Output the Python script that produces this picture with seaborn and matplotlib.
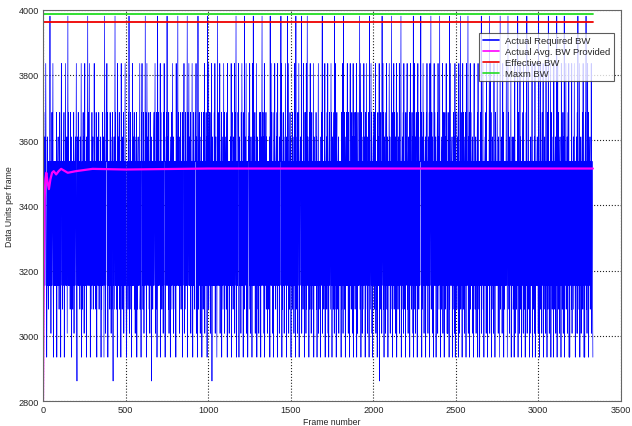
import numpy as np
import pandas as pd
import matplotlib
matplotlib.use("Agg")
import matplotlib.pyplot as plt
import seaborn as sns

# Quantised frame sizes seen in the plot (data units per frame)
levels = [2862, 2935, 3008, 3082, 3155, 3228, 3302, 3375, 3448, 3535, 3610, 3685, 3835, 3980]

# Required BW, one char per sample = index into levels (0-9, a-d)
required_codes = (
    "49b94a49c9414a4939494d49294b49c4194949494b1949a4939b4919c949"
    "3949b1949c494a29d4b49493b4a1949394b2949a49c40a94b49493a49c1"
    "4939b4a29c49491a49d4b49c4919394b49a394c49493b41a9494b39494a1"
    "9394b49a19d4929b9c4b1949493b4a2939b4094a39d4b49391c4a49b3949"
    "1c4939a4b2949c494129493b4d2949b39194c4a49b3a2949b1939a4949c3"
    "491b9c4939b2949d4b41c94a49b3929b4a0949394ab49c2939b14d4b4949"
    "9c1b4939492b4c9a1949b4d49a3b294919a4b39c4a29949391c4a49d4b4"
    "a2949b39491b4a9c2939b4949d1b49c4a49b2949c4194b4939b9c2a491d4"
    "39b4a2949b19493b94c2949b4a1d49c39b4929b4c0a49494b4c29a4919d4"
    "b49a4c2949b1a4939c4b2949a39b1c49492994a4c19b4939a4c2b49d1949"
    "4b9c1a49492b4c94919b3d4a49c294914a9b4c392a4919c4d49a4b2949c1"
    "a4939294b4b1a49d49b4a2c1949b3a49293994a1d49c4b492919b4c4939a4"
    "b1c49492a4b9d4c1939b4a2949c491a4d49c2939b4a1949b3a4929c4b1d3"
    "94a2b49c1949a94d29493c4b1949b2c39d4a4919b3c4929b4939c1a4949"
    "4b3a1949c2949391a4b9d2949394c1949a3b4c2919b4939c4b1a4939b2d"
    "3c4a19b4939a29494491b3a4c2d49b3919a4b4c492b4919c4939b4a2c19b4"
    "a39b4c1929b4949d39c1b4a29394c49a1b39c4a2949b1d4939c4b2919a4b3"
    "9b4c293919b4a4c0939b492d49c3b1a4929b4c39a1949c4a2939d4b1994c3"
    "b49a29c1b4939a4c2949d1939a4b2c49391b4a9c3929a4b19c4939b4a2d19"
    "4c3a29b4919c4b3949a9d4b1a39c4b2949a19b4c4929a4b1c49d39b4a2919"
    "c4b49a1949b2c4a39d491939a4c2b4919b3a4c49292b4a1d39c4949a1939b"
    "4a2c19b4939a4b1c2949d3b4919c4b3929a4b1c4949d2a4b19c3b4949a291"
    "9c4939a2949b1c4939194b4d2949c391949a4b2c49194949d29c4b1949a39"
    "2c4919b4949c492a4919d3994a29c4b19394949c4919d4b3a2949c194a493"
    "4a19c29493994d1b4929c3a491949b2c4939194b4d2949c391929a494c1993"
    "94a2c194949a492d4919c3b4929b4c1939a492c4919b3d492949c1b4a3994"
    "1c4939a294d19c4b3929a491c4939b2a4d1949c394a29b4c19199493c2994"
    "a39c491929a4b2d4939c194a2949b3c491919b4d3929c4b1949a394c29941"
)
last_frame = 3330

# Average provided BW (running average), read at a few frames
avg_frames = [0, 5, 10, 15, 20, 28, 36, 45, 55, 65, 80, 95, 110, 150, 200, 300, 500, 1000, 2000, 3330]
avg_values = [2800, 3200, 3420, 3480, 3500, 3470, 3450, 3480, 3500, 3505, 3495, 3505, 3512, 3500, 3505, 3512, 3510, 3513, 3513, 3513]

effective_bw = 3962
maxm_bw = 3988

required = [levels[int(c, 16)] for c in required_codes]
frames = np.linspace(1, last_frame, len(required))
df = pd.DataFrame({"frame": frames, "bw": required})

sns.set_style("white")
plt.rcParams["font.family"] = ["Liberation Sans", "DejaVu Sans"]

fig = plt.figure(figsize=(6.32, 4.27), dpi=100)
ax = fig.add_axes([0.068, 0.058, 0.9145, 0.9172])

sns.lineplot(data=df, x="frame", y="bw", ax=ax, color="#0000ff", lw=0.5,
             label="Actual Required BW", estimator=None, sort=False)
sns.lineplot(x=avg_frames, y=avg_values, ax=ax, color="#ff00ff", lw=1.6,
             label="Actual Avg. BW Provided", estimator=None)
sns.lineplot(x=[0, last_frame], y=[effective_bw, effective_bw], ax=ax, color="#ee0000",
             lw=1.3, label="Effective BW", estimator=None)
sns.lineplot(x=[0, last_frame], y=[maxm_bw, maxm_bw], ax=ax, color="#22dd22",
             lw=1.3, label="Maxm BW", estimator=None)

ax.set_xlim(0, 3500)
ax.set_ylim(2800, 4000)
ax.set_xticks(range(0, 3501, 500))
ax.set_yticks(range(2800, 4001, 200))
ax.grid(True, linestyle=":", color="#222222", lw=0.8)
ax.set_axisbelow(True)
ax.tick_params(direction="in", length=4, labelsize=6.6, color="#444444", pad=3)
for s in ax.spines.values():
    s.set_color("#666666")
    s.set_linewidth(0.8)
ax.set_xlabel("Frame number", fontsize=6.3, labelpad=2)
ax.set_ylabel("Data Units per frame", fontsize=6.3, labelpad=3)

leg = ax.legend(loc="upper right", bbox_to_anchor=(0.988, 0.94), fontsize=6.8,
                frameon=True, fancybox=False, borderpad=0.35, labelspacing=0.2,
                handlelength=1.7, handletextpad=0.7, borderaxespad=0)
leg.get_frame().set_edgecolor("#333333")
leg.get_frame().set_linewidth(0.8)
for h in leg.get_lines():
    h.set_linewidth(1.2)

fig.savefig("out.png", dpi=100)
